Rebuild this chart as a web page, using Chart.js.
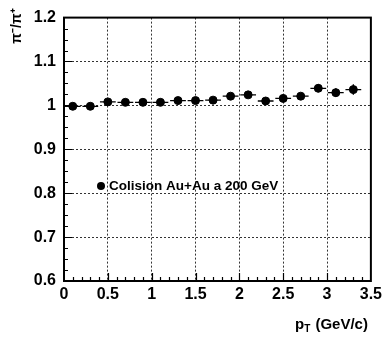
<!DOCTYPE html>
<html><head><meta charset="utf-8">
<script src="https://cdn.jsdelivr.net/npm/chart.js@4"></script>
<style>html,body{margin:0;padding:0;background:#fff}#w{width:386px;height:337px}</style>
</head><body><div id="w"><canvas id="c" width="386" height="337"></canvas></div>
<script>
const pT = [0.1,0.3,0.5,0.7,0.9,1.1,1.3,1.5,1.7,1.9,2.1,2.3,2.5,2.7,2.9,3.1,3.3];
const ratio = [0.998,0.998,1.008,1.007,1.007,1.007,1.011,1.011,1.012,1.021,1.024,1.010,1.016,1.021,1.039,1.029,1.036];
const ratioErr = [0.004,0.004,0.004,0.004,0.004,0.004,0.004,0.005,0.005,0.005,0.006,0.006,0.007,0.007,0.009,0.010,0.012];
const pTErr = [0.09,0.09,0.09,0.09,0.09,0.09,0.09,0.09,0.09,0.09,0.09,0.09,0.09,0.09,0.09,0.09,0.09];
const seriesLabel = 'Colision Au+Au a 200 GeV';
const xTitle = ['p','T',' (GeV/c)'];
const yTitle = 'π\u207B/π\u207A';

const FONT = "'Liberation Sans', Arial, sans-serif";
Chart.defaults.color = '#000';
Chart.defaults.font.family = FONT;

function fmt(v){ const r = Math.round(v*10)/10; return (r===Math.round(r)) ? String(Math.round(r)) : r.toFixed(1); }

const deco = {
  id:'deco',
  beforeDatasetsDraw(chart){
    const ctx = chart.ctx, xs = chart.scales.x, ys = chart.scales.y;
    ctx.save();
    ctx.strokeStyle = '#000'; ctx.lineWidth = 1.3;
    for (let i=0;i<pT.length;i++){
      const x = xs.getPixelForValue(pT[i]), y = ys.getPixelForValue(ratio[i]);
      ctx.beginPath();
      ctx.moveTo(xs.getPixelForValue(pT[i]-pTErr[i]), y);
      ctx.lineTo(xs.getPixelForValue(pT[i]+pTErr[i]), y);
      ctx.moveTo(x, ys.getPixelForValue(ratio[i]-ratioErr[i]));
      ctx.lineTo(x, ys.getPixelForValue(ratio[i]+ratioErr[i]));
      ctx.stroke();
    }
    ctx.restore();
  },
  afterDraw(chart){
    const ctx = chart.ctx, a = chart.chartArea, xs = chart.scales.x, ys = chart.scales.y;
    ctx.save();
    ctx.strokeStyle = '#000';
    ctx.lineWidth = 1.2;
    ctx.beginPath();
    for (let k=1;k<35;k++){
      const v = k/10, x = Math.round(xs.getPixelForValue(v))+0.5;
      const len = (k%5===0) ? 8 : 4;
      ctx.moveTo(x, a.bottom); ctx.lineTo(x, a.bottom-len);
    }
    for (let k=1;k<24;k++){
      const v = 0.6 + k*0.025, y = Math.round(ys.getPixelForValue(v))+0.5;
      const len = (k%4===0) ? 8 : 4;
      ctx.moveTo(a.left, y); ctx.lineTo(a.left+len, y);
    }
    ctx.stroke();
    ctx.lineWidth = 2;
    ctx.strokeRect(a.left, a.top, a.right-a.left, a.bottom-a.top);
    // legend
    ctx.fillStyle = '#000';
    ctx.beginPath(); ctx.arc(101, 186, 4, 0, Math.PI*2); ctx.fill();
    ctx.font = 'bold 13.5px ' + FONT;
    ctx.textBaseline = 'middle'; ctx.textAlign = 'left';
    ctx.fillText(seriesLabel, 109, 186.5);
    // x title
    ctx.textBaseline = 'alphabetic';
    ctx.font = 'bold 15px ' + FONT;
    let x = 295;
    ctx.fillText(xTitle[0], x, 329); x += ctx.measureText(xTitle[0]).width;
    ctx.font = 'bold 10px ' + FONT;
    ctx.fillText(xTitle[1], x, 332); x += ctx.measureText(xTitle[1]).width + 1;
    ctx.font = 'bold 15px ' + FONT;
    ctx.fillText(xTitle[2], x, 329);
    // y title
    ctx.translate(17, 26); ctx.rotate(-Math.PI/2);
    ctx.font = 'bold 14px ' + FONT;
    ctx.textAlign = 'center'; ctx.textBaseline = 'middle';
    ctx.fillText(yTitle, 0, 0);
    ctx.restore();
  }
};

new Chart(document.getElementById('c'), {
  type:'scatter',
  data:{ datasets:[{ label: seriesLabel, data: pT.map((v,i)=>({x:v,y:ratio[i]})),
    backgroundColor:'#000', borderColor:'#000', pointRadius:4, pointHoverRadius:4, showLine:false }]},
  options:{
    responsive:false, animation:false,
    layout:{ padding:{ top:8, right:11, left:0, bottom:0 } },
    plugins:{ legend:{display:false}, tooltip:{enabled:false} },
    scales:{
      x:{ type:'linear', min:0, max:3.5,
        afterFit(s){ s.height = 56; },
        ticks:{ stepSize:0.5, padding:4, font:{size:16, weight:'bold'}, maxRotation:0, autoSkip:false, callback:(v)=>fmt(v) },
        grid:{ color:(c)=> (c.index===0||c.index===7)?'rgba(0,0,0,0)':'#333', lineWidth:1, drawTicks:false },
        border:{ display:false, dash:[2,2] } },
      y:{ type:'linear', min:0.6, max:1.2,
        afterFit(s){ s.width = 64; },
        ticks:{ stepSize:0.1, padding:8, font:{size:16, weight:'bold'}, callback:(v)=>fmt(v) },
        grid:{ color:(c)=> (c.index===0||c.index===6)?'rgba(0,0,0,0)':'#333', lineWidth:1, drawTicks:false },
        border:{ display:false, dash:[2,2] } }
    }
  },
  plugins:[deco]
});
</script></body></html>
